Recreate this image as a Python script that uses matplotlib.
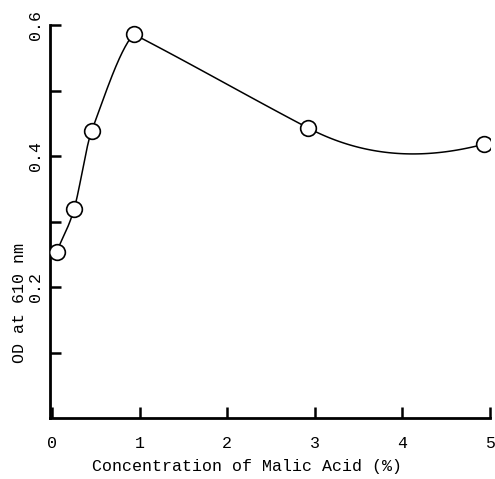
import numpy as np
import matplotlib
matplotlib.use("Agg")
import matplotlib.pyplot as plt

# Data
conc = [0.05, 0.25, 0.45, 0.93, 2.92, 4.93]
od = [0.253, 0.319, 0.438, 0.586, 0.443, 0.418]
x_ticks = [0, 1, 2, 3, 4, 5]
x_ticklabels = ["0", "1", "2", "3", "4", "5"]
y_ticks = [0.1, 0.2, 0.3, 0.4, 0.5, 0.6]
y_ticklabels = ["", "0.2", "", "0.4", "", "0.6"]

# curve drawing style: tangents of the hand-drawn smooth line (two pieces, corner at peak)
left_tangents = [0.35, 0.46, 0.36, 0.15]
right_tangents = [-0.069, -0.07, 0.035]


def hermite_curve(xs, ys, ms, n=60):
    cx, cy = [], []
    for i in range(len(xs) - 1):
        h = xs[i + 1] - xs[i]
        t = np.linspace(0, 1, n)
        h00 = 2 * t**3 - 3 * t**2 + 1
        h10 = t**3 - 2 * t**2 + t
        h01 = -2 * t**3 + 3 * t**2
        h11 = t**3 - t**2
        cx.append(xs[i] + h * t)
        cy.append(h00 * ys[i] + h10 * h * ms[i] + h01 * ys[i + 1] + h11 * h * ms[i + 1])
    return np.concatenate(cx), np.concatenate(cy)


mono = "Liberation Mono"
fig = plt.figure(figsize=(4.95, 4.79), dpi=100)
ax = fig.add_axes([50 / 495, 1 - 418 / 479, 440 / 495, 393 / 479])

lx, ly = hermite_curve(conc[:4], od[:4], left_tangents)
rx, ry = hermite_curve(conc[3:], od[3:], right_tangents)
ax.plot(lx, ly, color="black", lw=1.1, zorder=2)
ax.plot(rx, ry, color="black", lw=1.1, zorder=2)
ax.plot(conc, od, "o", ms=11.3, mfc="white", mec="black", mew=1.2, zorder=3)

ax.set_xlim(-0.025, 5.0)
ax.set_ylim(0, 0.6)
for s in ["top", "right"]:
    ax.spines[s].set_visible(False)
for s in ["left", "bottom"]:
    ax.spines[s].set_linewidth(2.0)

ax.set_xticks(x_ticks)
ax.set_xticklabels(x_ticklabels, fontfamily=mono, fontsize=12)
ax.set_yticks(y_ticks)
ax.set_yticklabels(y_ticklabels, fontfamily=mono, fontsize=12, rotation=90, va="center")
ax.tick_params(axis="both", direction="in", length=8, width=1.8)
ax.tick_params(axis="x", pad=13)
ax.tick_params(axis="y", pad=5)

ax.set_xlabel("Concentration of Malic Acid (%)", fontfamily=mono, fontsize=12)
ax.xaxis.set_label_coords((247 - 50) / 440, -(467 - 418) / 393)
ax.xaxis.label.set_va("center")
ax.set_ylabel("OD at 610 nm", fontfamily=mono, fontsize=12)
ax.yaxis.set_label_coords(-(50 - 19) / 440, (418 - 303) / 393)
ax.yaxis.label.set_va("center")

fig.savefig("out.png", dpi=100)
